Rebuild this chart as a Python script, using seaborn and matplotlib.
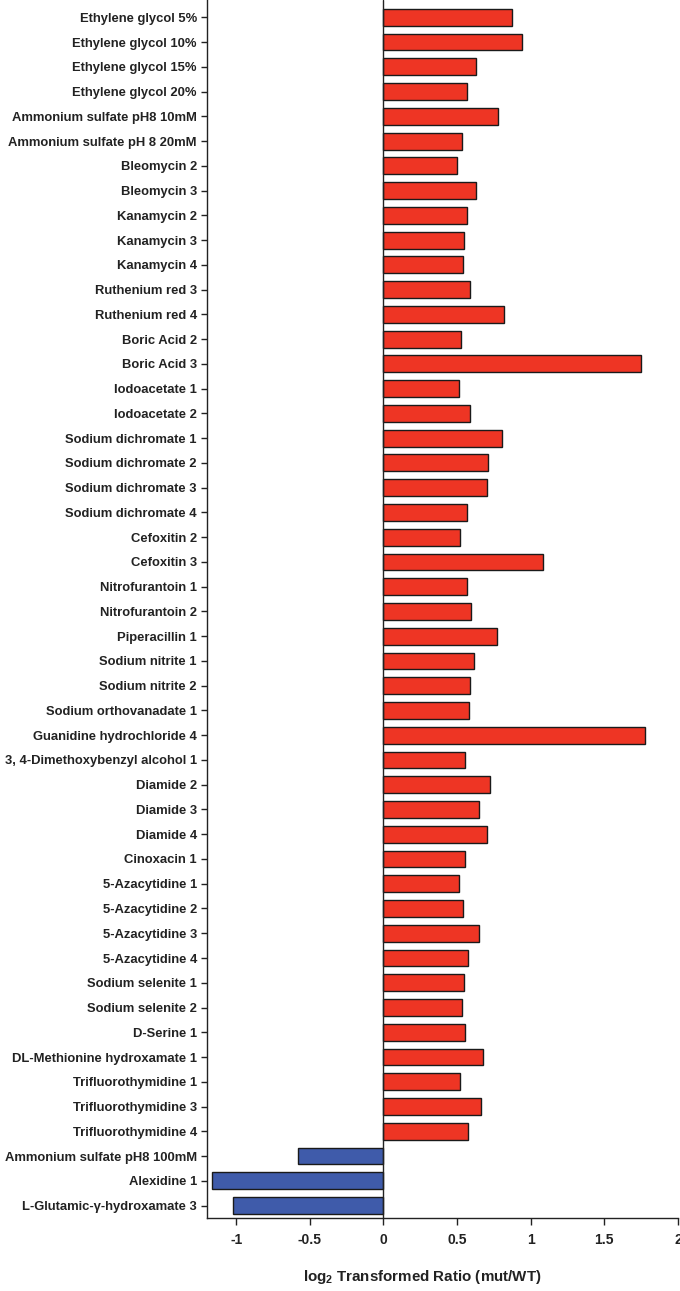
import pandas as pd
import numpy as np
import matplotlib
matplotlib.use("Agg")
import matplotlib.pyplot as plt
import seaborn as sns

sns.set_theme(style="white")
plt.rcParams["font.family"] = ["Liberation Sans", "DejaVu Sans"]
plt.rcParams["mathtext.fontset"] = "custom"
plt.rcParams["mathtext.rm"] = "Liberation Sans:bold"
plt.rcParams["mathtext.it"] = "Liberation Sans:bold"
plt.rcParams["mathtext.bf"] = "Liberation Sans:bold"

conditions = [
    "Ethylene glycol 5%", "Ethylene glycol 10%", "Ethylene glycol 15%", "Ethylene glycol 20%",
    "Ammonium sulfate pH8 10mM", "Ammonium sulfate pH 8 20mM",
    "Bleomycin 2", "Bleomycin 3",
    "Kanamycin 2", "Kanamycin 3", "Kanamycin 4",
    "Ruthenium red 3", "Ruthenium red 4",
    "Boric Acid 2", "Boric Acid 3",
    "Iodoacetate 1", "Iodoacetate 2",
    "Sodium dichromate 1", "Sodium dichromate 2", "Sodium dichromate 3", "Sodium dichromate 4",
    "Cefoxitin 2", "Cefoxitin 3",
    "Nitrofurantoin 1", "Nitrofurantoin 2",
    "Piperacillin 1",
    "Sodium nitrite 1", "Sodium nitrite 2",
    "Sodium orthovanadate 1",
    "Guanidine hydrochloride 4",
    "3, 4-Dimethoxybenzyl alcohol 1",
    "Diamide 2", "Diamide 3", "Diamide 4",
    "Cinoxacin 1",
    "5-Azacytidine 1", "5-Azacytidine 2", "5-Azacytidine 3", "5-Azacytidine 4",
    "Sodium selenite 1", "Sodium selenite 2",
    "D-Serine 1",
    "DL-Methionine hydroxamate 1",
    "Trifluorothymidine 1", "Trifluorothymidine 3", "Trifluorothymidine 4",
    "Ammonium sulfate pH8 100mM",
    "Alexidine 1",
    "L-Glutamic-\u03b3-hydroxamate 3",
]

log2_ratio = [
    0.876, 0.941, 0.631, 0.570,
    0.781, 0.532,
    0.500, 0.631,
    0.570, 0.550, 0.538,
    0.586, 0.817,
    0.527, 1.747,
    0.514, 0.586,
    0.805, 0.710, 0.704, 0.566,
    0.518, 1.084,
    0.566, 0.596,
    0.774,
    0.613, 0.586,
    0.579,
    1.774,
    0.554,
    0.722, 0.647, 0.701,
    0.557,
    0.516, 0.543, 0.647, 0.575,
    0.550, 0.536,
    0.554,
    0.676,
    0.518, 0.661, 0.575,
    -0.579,
    -1.165,
    -1.023,
]

df = pd.DataFrame({"condition": conditions, "ratio": log2_ratio})
df["direction"] = np.where(df["ratio"] >= 0, "up", "down")

fig = plt.figure(figsize=(6.8, 12.91), dpi=100)
ax = fig.add_axes([0.304, 0.0566, 0.693, 0.9434])

sns.barplot(data=df, x="ratio", y="condition", hue="direction",
            palette={"up": "#EE3524", "down": "#3F5BAA"}, orient="h",
            width=0.68, dodge=False, legend=False, saturation=1,
            edgecolor="#1a1a1a", linewidth=1.0, ax=ax)

ax.axvline(0, color="#222222", lw=1.0, zorder=5)
ax.set_xlim(-1.2, 2.0)
ax.set_ylim(48.5, -0.7)
ax.set_xticks([-1, -0.5, 0, 0.5, 1, 1.5, 2])
ax.set_xticklabels(["-1", "-0.5", "0", "0.5", "1", "1.5", "2"])

for side in ["top", "right"]:
    ax.spines[side].set_visible(False)
for side in ["left", "bottom"]:
    ax.spines[side].set_color("#222222")
    ax.spines[side].set_linewidth(1.0)

ax.tick_params(axis="y", left=True, length=4, width=1, color="#222222",
               labelsize=9.4, pad=3)
ax.tick_params(axis="x", bottom=True, length=5, width=1, color="#222222",
               labelsize=10, pad=6)
for lab in ax.get_yticklabels() + ax.get_xticklabels():
    lab.set_fontweight("bold")
    lab.set_color("#222222")

ax.set_ylabel("")
ax.set_xlabel("log$_{2}$ Transformed Ratio (mut/WT)", fontsize=10.9,
              fontweight="bold", color="#222222")
ax.xaxis.set_label_coords(0.4575, -0.041)

fig.savefig("out.png", dpi=100)
